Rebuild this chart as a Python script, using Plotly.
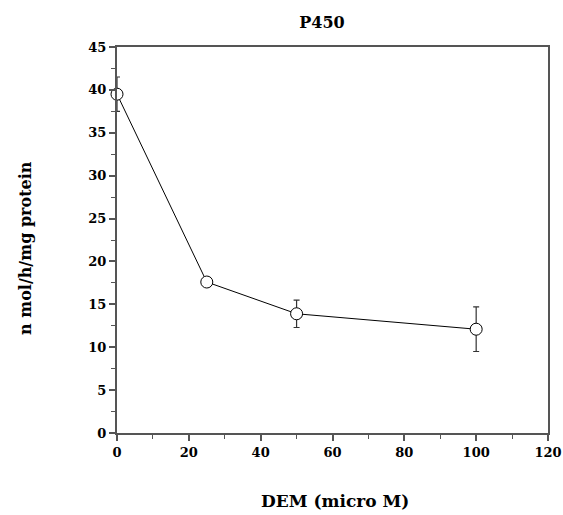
import plotly.graph_objects as go

dem = [0, 25, 50, 100]
activity = [39.5, 17.6, 13.9, 12.1]
err = [2.0, 0.0, 1.6, 2.6]

font_family = "DejaVu Serif, serif"
L, R, T, B = 117, 15, 47, 82
W, H = 563, 515
PW, PH = W - L - R, H - T - B

fig = go.Figure()
fig.add_trace(go.Scatter(
    x=dem, y=activity,
    mode="lines+markers",
    line=dict(color="black", width=1),
    marker=dict(symbol="circle", size=12, color="white", line=dict(color="black", width=1)),
    error_y=dict(type="data", array=err, visible=True, color="#333333", thickness=1.2, width=3),
    cliponaxis=False,
    showlegend=False,
))

axis_common = dict(
    showgrid=False, zeroline=False, showline=True, linecolor="#555555", linewidth=2,
    mirror=True, ticks="outside", tickcolor="#555555", tickwidth=1.5, ticklen=6,
    automargin=False, ticklabeloverflow="allow",
    tickfont=dict(family=font_family, size=13, color="black"),
)

fig.update_layout(
    width=W, height=H,
    margin=dict(l=L, r=R, t=T, b=B),
    paper_bgcolor="white", plot_bgcolor="white",
    title=dict(text="<b>P450</b>", x=(322 - L) / PW, xref="paper", xanchor="center", y=0.957, yanchor="middle",
               font=dict(family=font_family, size=16, color="black")),
    xaxis=dict(range=[0, 120], tick0=0, dtick=20,
               minor=dict(dtick=10, ticks="outside", ticklen=4, tickcolor="#555555", tickwidth=1),
               **axis_common),
    yaxis=dict(range=[0, 45], tick0=0, dtick=5,
               minor=dict(dtick=2.5, ticks="outside", ticklen=4, tickcolor="#555555", tickwidth=1),
               **axis_common),
    annotations=[
        dict(text="<b>DEM (micro M)</b>", xref="paper", yref="paper",
             x=(335 - L) / PW, y=-(501 - (H - B)) / PH, xanchor="center", yanchor="middle",
             showarrow=False, font=dict(family=font_family, size=17, color="black")),
        dict(text="<b>n mol/h/mg protein</b>", xref="paper", yref="paper",
             x=-(L - 25) / PW, y=((H - B) - 248) / PH, xanchor="center", yanchor="middle",
             textangle=-90, showarrow=False, font=dict(family=font_family, size=16, color="black")),
    ],
)
fig.update_xaxes(tickprefix="<b>", ticksuffix="</b>")
fig.update_yaxes(tickprefix="<b>", ticksuffix="</b>")

fig.write_html("out.html")
